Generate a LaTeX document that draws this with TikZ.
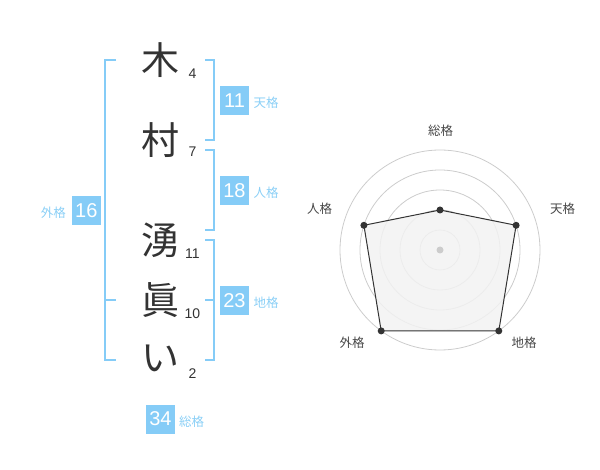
\documentclass[tikz,border=0pt]{standalone}
\usepackage{fontspec}
\setmainfont{Liberation Sans}
\newfontfamily\jp{Noto Sans CJK JP}
\definecolor{kblue}{HTML}{85CCF7}
\definecolor{klabel}{HTML}{8ACFF6}
\definecolor{kdark}{HTML}{333333}
\definecolor{kgrid}{HTML}{CCCCCC}
\definecolor{kfill}{HTML}{F2F2F2}
\begin{document}
\begin{tikzpicture}[x=1pt,y=-1pt,
  kanji/.style={inner sep=0pt,text=kdark,font=\jp\fontsize{38}{38}\selectfont},
  strokes/.style={inner sep=0pt,text=kdark,font=\fontsize{14}{14}\selectfont},
  gbox/.style={inner sep=0pt,minimum size=29pt,fill=kblue,text=white,font=\fontsize{20}{20}\selectfont},
  glabel/.style={inner sep=0pt,text=klabel,font=\jp\fontsize{12.5}{12.5}\selectfont},
  bracket/.style={draw=kblue,line width=2pt},
  grid/.style={draw=kgrid,line width=0.8pt},
  rlabel/.style={inner sep=0pt,text=kdark!90,font=\jp\fontsize{12.5}{12.5}\selectfont},
  rdot/.style={circle,fill=kdark,inner sep=0pt,minimum size=7pt}]
\useasboundingbox (0,0) rectangle (600,470);
% characters
\node[kanji] (c1) at (160.5,60) {木};
\node[kanji] (c2) at (160.5,140) {村};
\node[kanji] (c3) at (160.5,240) {湧};
\node[kanji] (c4) at (160.5,300) {眞};
\node[kanji] (c5) at (160.5,358) {い};
% stroke counts
\node[strokes] (n1) at (192.5,73.3) {4};
\node[strokes] (n2) at (192.5,151.7) {7};
\node[strokes] (n3) at (192.5,253.3) {11};
\node[strokes] (n4) at (192.5,313.3) {10};
\node[strokes] (n5) at (192.5,373.3) {2};
% brackets
\draw[bracket] (205,60) -- (214,60) -- (214,140) -- (205,140);
\draw[bracket] (205,150) -- (214,150) -- (214,230) -- (205,230);
\draw[bracket] (205,240) -- (214,240) -- (214,360) -- (205,360);
\draw[bracket] (205,300) -- (214,300);
\draw[bracket] (116,60) -- (105,60) -- (105,360) -- (116,360);
\draw[bracket] (105,300) -- (116,300);
% boxes
\node[gbox] (ten) at (234.5,100.5) {11};
\node[glabel] (tenl) at (266,103) {天格};
\node[gbox] (jin) at (234.5,190.5) {18};
\node[glabel] (jinl) at (266,193) {人格};
\node[gbox] (chi) at (234.5,300.5) {23};
\node[glabel] (chil) at (266,303) {地格};
\node[gbox] (gai) at (86.3,210.3) {16};
\node[glabel] (gail) at (53.3,213) {外格};
\node[gbox] (sou) at (160.5,419) {34};
\node[glabel] (soul) at (191.5,422) {総格};
% radar
\coordinate (O) at (440,250);
\foreach \r in {20,40,60,80,100} \draw[grid] (O) circle[radius=\r];
\coordinate (pS) at (440,210);
\coordinate (pT) at (516.1,225.3);
\coordinate (pC) at (498.8,330.9);
\coordinate (pG) at (381.2,330.9);
\coordinate (pJ) at (363.9,225.3);
\draw[fill=kfill,fill opacity=0.85,draw=kdark,line width=1pt,line join=round] (pS) -- (pT) -- (pC) -- (pG) -- (pJ) -- cycle;
\node[circle,fill=kgrid,inner sep=0pt,minimum size=7pt] (oc) at (O) {};
\foreach \p in {pS,pT,pC,pG,pJ} \node[rdot] at (\p) {};
\node[rlabel] (ls) at (440.5,130.5) {総格};
\node[rlabel] (lt) at (562.5,208.5) {天格};
\node[rlabel] (lj) at (319.5,208.5) {人格};
\node[rlabel] (lg) at (352,342.5) {外格};
\node[rlabel] (lc) at (524,342.5) {地格};
\end{tikzpicture}
\end{document}
